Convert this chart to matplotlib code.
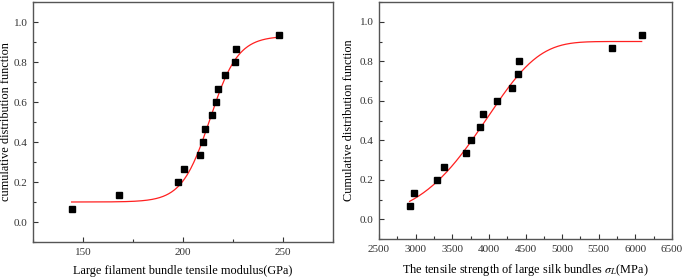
import numpy as np
import matplotlib
matplotlib.use('Agg')
import matplotlib.pyplot as plt
from matplotlib.ticker import MultipleLocator

plt.rcParams['font.family'] = ['Liberation Serif', 'DejaVu Serif']
plt.rcParams['mathtext.fontset'] = 'stix'

# cumulative probabilities (same for both panels)
cdf = [0.067, 0.133, 0.2, 0.267, 0.333, 0.4, 0.467, 0.533, 0.6, 0.667, 0.733, 0.8, 0.867, 0.933]

# left panel: tensile modulus (GPa)
modulus = [144.3, 167.8, 197.5, 200.3, 208.7, 209.8, 210.8, 214.7, 216.7, 217.7, 221.2, 225.8, 226.7, 248.0]
# Boltzmann fit: A1, A2, x0, dx
fit_mod = (0.10, 0.93, 213.5, 7.0)

# right panel: tensile strength (MPa)
strength = [2918, 2982, 3286, 3386, 3682, 3750, 3877, 3923, 4109, 4314, 4400, 4418, 5682, 6086]
# Weibull-type fit: amplitude, scale, shape
fit_str = (0.90, 4079, 6.7)

fig = plt.figure(figsize=(6.85, 2.8), dpi=100)
ax1 = fig.add_axes([33/685, 1 - 242/280, 300/685, 240/280])
ax2 = fig.add_axes([379/685, 1 - 239/280, 293/685, 237/280])

# left
xm = np.linspace(min(modulus), max(modulus), 300)
A1, A2, x0, dx = fit_mod
ax1.plot(xm, A2 + (A1 - A2) / (1 + np.exp((xm - x0) / dx)), color='#ff2020', lw=0.9)
ax1.plot(modulus, cdf, 's', color='black', ms=4.2)
ax1.set_xlim(125, 275)
ax1.set_ylim(-0.1, 1.1)
ax1.xaxis.set_major_locator(MultipleLocator(50))
ax1.xaxis.set_minor_locator(MultipleLocator(25))
ax1.set_xlabel('Large filament bundle tensile modulus(GPa)', fontsize=8.8, labelpad=6)
ax1.set_ylabel('cumulative distribution function', fontsize=8.8, labelpad=1)

# right
xs = np.linspace(min(strength), max(strength), 300)
amp, scale, shape = fit_str
ax2.plot(xs, amp * (1 - np.exp(-(xs / scale) ** shape)), color='#ff2020', lw=0.9)
ax2.plot(strength, cdf, 's', color='black', ms=4.2)
ax2.set_xlim(2500, 6500)
ax2.set_ylim(-0.1, 1.1)
ax2.xaxis.set_major_locator(MultipleLocator(500))
ax2.xaxis.set_minor_locator(MultipleLocator(250))
ax2.set_xlabel(r'The tensile strength of large silk bundles $\sigma_L$(MPa)', fontsize=8.8, labelpad=6)
ax2.set_ylabel('Cumulative distribution function', fontsize=8.8, labelpad=3)

for ax in (ax1, ax2):
    ax.yaxis.set_major_locator(MultipleLocator(0.2))
    ax.yaxis.set_minor_locator(MultipleLocator(0.1))
    ax.yaxis.set_major_formatter(matplotlib.ticker.FormatStrFormatter('%.1f'))
    ax.tick_params(which='both', direction='in', top=False, right=False, labelsize=8, colors='#333333')
    ax.tick_params(which='major', length=3.5, width=0.8, pad=4)
    ax.tick_params(which='minor', length=2, width=0.8)
    for s in ax.spines.values():
        s.set_color('#555555')
        s.set_linewidth(1.0)

fig.savefig('out.png', dpi=100)
